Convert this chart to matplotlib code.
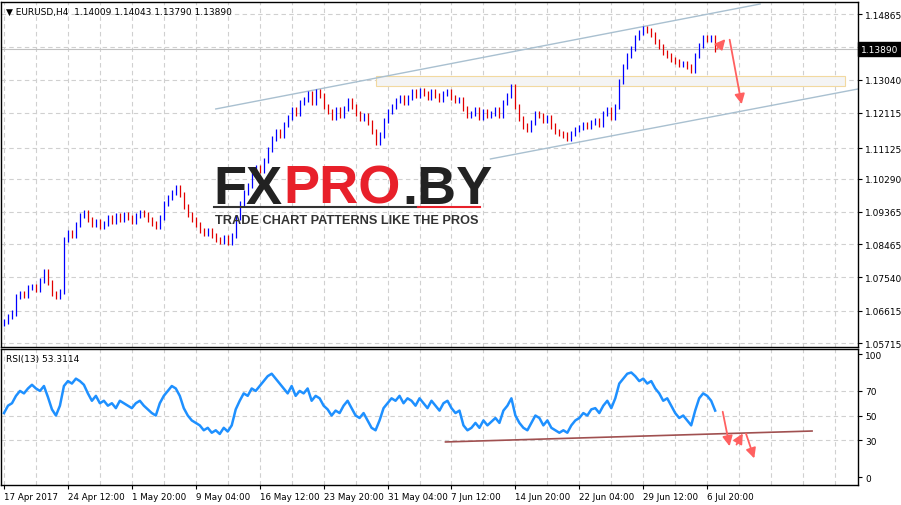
import matplotlib
matplotlib.use("Agg")
import matplotlib.pyplot as plt
import numpy as np

closes = [1.0630,1.0645,1.0655, 1.0700,1.0710,1.0705, 1.0725,1.0730,1.0720,1.0745,1.0770,
 1.0740,1.0710,1.0700,1.0715, 1.0860,1.0880,1.0870,1.0900,1.0925, 1.0935,1.0915,1.0900,1.0910,1.0895,
 1.0905,1.0920,1.0910,1.0925,1.0915,1.0930,1.0920,1.0910,1.0925,1.0935,1.0930,1.0915,
 1.0905,1.0895,1.0920, 1.0960,1.0975,1.0990,1.1005,1.0985, 1.0950,1.0930,1.0915,1.0900,1.0885,
 1.0875,1.0885,1.0870,1.0860,1.0855,1.0865,1.0850,1.0870, 1.0920,1.0960,1.0990,1.1010,1.1040,1.1060,1.1050,
 1.1080,1.1110,1.1140,1.1160,1.1150, 1.1180,1.1200,1.1220,1.1210,1.1240, 1.1250,1.1265,1.1240,1.1270,1.1260,
 1.1230,1.1215,1.1200,1.1220,1.1205, 1.1225,1.1245,1.1230,1.1210,1.1195,1.1205,1.1185, 1.1160,1.1130,1.1150,
 1.1190,1.1215,1.1230,1.1245,1.1255, 1.1240,1.1255,1.1270,1.1260,1.1275,
 1.1265,1.1255,1.1270,1.1260,1.1250,1.1265,1.1270,1.1255,1.1245,1.1250,
 1.1225,1.1205,1.1210,1.1220,1.1200,1.1215,1.1205,1.1210,1.1220,1.1205, 1.1240,1.1260,1.1285,1.1230,
 1.1195,1.1175,1.1165,1.1185, 1.1210,1.1205,1.1190,1.1200,1.1175, 1.1160,1.1155,1.1150,1.1140,1.1155,
 1.1165,1.1170,1.1180,1.1175,1.1185,1.1190,1.1180, 1.1210,1.1220,1.1200,1.1230, 1.1300,1.1340,1.1370,1.1390,
 1.1420,1.1435,1.1445,1.1440,1.1430, 1.1410,1.1395,1.1380,1.1370,1.1360, 1.1355,1.1345,1.1350,1.1340,1.1330,
 1.1370,1.1400,1.1420,1.1415, 1.1420,1.1389]

rsi = [52,58,60, 66,70,68, 72,75,72,70,74, 65,55,50,58, 74,78,76,80,78, 75,68,62,66,60,
 62,58,60,56,62,60,58,56,60,62,58,55, 52,50,60, 66,70,74,72,66, 56,50,46,44,42,
 38,40,36,38,35,40,37,42, 55,62,68,66,72,70,74, 78,82,84,80,76, 72,68,74,66,70, 68,72,62,66,64,
 58,55,50,54,52, 58,62,56,50,48,52,46, 40,38,46, 56,60,64,62,66, 60,64,62,58,64,
 60,56,62,58,54,60,62,56,52,54, 42,38,40,44,40,46,42,45,48,44, 54,58,64,50,
 44,40,38,44, 50,48,42,46,40, 38,36,38,36,42, 46,48,52,50,55,56,52, 58,62,56,64, 76,80,84,85,
 82,78,80,76,78, 72,68,62,64,58, 52,48,50,46,42, 54,64,68,66, 62,54]

price_ticks = [1.14865,1.13040,1.12115,1.11125,1.10290,1.09365,1.08465,1.07540,1.06615,1.05715]
price_labels = ["1.14865","1.13040","1.12115","1.11125","1.10290","1.09365","1.08465","1.07540","1.06615","1.05715"]
time_labels = ["17 Apr 2017","24 Apr 12:00","1 May 20:00","9 May 04:00","16 May 12:00","23 May 20:00",
               "31 May 04:00","7 Jun 12:00","14 Jun 20:00","22 Jun 04:00","29 Jun 12:00","6 Jul 20:00"]
last_price = 1.13890

W, H = 901, 506
fig = plt.figure(figsize=(W/100, H/100), dpi=100)
fig.patch.set_facecolor("white")
plt.rcParams['font.family'] = ['DejaVu Sans']

ax = fig.add_axes([1/W, (H-348)/H, 857/W, 345/H])
ar = fig.add_axes([1/W, (H-486)/H, 857/W, 136/H])

n = len(closes)
x = np.arange(n)
opens = [closes[0]-0.0005] + closes[:-1]
gridkw = dict(color="#d0d0d0", ls=(0,(4,3)), lw=0.8)

for a in (ax, ar):
    a.set_xlim(-0.75, 213.75)
    for gx in np.arange(0, 214, 8):
        a.axvline(gx, **gridkw, zorder=0)
    for s in a.spines.values():
        s.set_color("black"); s.set_linewidth(1)
    a.yaxis.tick_right()
    a.tick_params(axis='y', labelsize=6.5, length=3, pad=2)

for i in range(n):
    o, c = opens[i], closes[i]
    hi = max(o, c) + 0.0007
    lo = min(o, c) - 0.0007
    col = "#0000ff" if c >= o else "#e00000"
    ax.vlines(i, lo, hi, color=col, lw=0.9, zorder=3)

ax.set_ylim(1.05604, 1.15199)
ax.set_yticks(price_ticks)
ax.set_yticklabels(price_labels)
for t in price_ticks + [1.1395]:
    ax.axhline(t, **gridkw, zorder=0)
ax.set_xticks([])
ax.axhline(last_price, color="#c0c0c0", lw=0.8, zorder=1)
ax.text(1.003, last_price, "1.13890", transform=ax.get_yaxis_transform(), va="center", ha="left",
        fontsize=6.5, color="white", bbox=dict(boxstyle="square,pad=0.3", fc="black", ec="black"))

ax.plot([53, 189.25], [1.12224, 1.15143], color="#a9c0d0", lw=1, zorder=2)
ax.plot([121.75, 213.75], [1.10834, 1.1278], color="#a9c0d0", lw=1, zorder=2)
ax.add_patch(plt.Rectangle((93, 1.12863), 117.5, 0.00278, fc="#f4f4f4", ec="#f2d9a0", lw=0.8, zorder=1))

akw = dict(arrowstyle="-|>,head_length=0.6,head_width=0.3", color="#ff6060", lw=1.3)
ax.annotate("", xy=(181, 1.14226), xytext=(178, 1.13836), arrowprops=akw, zorder=5)
ax.annotate("", xy=(184.75, 1.12280), xytext=(181.5, 1.14226), arrowprops=akw, zorder=5)

ax.text(0.006, 0.985, "▼ EURUSD,H4  1.14009 1.14043 1.13790 1.13890", transform=ax.transAxes,
        fontsize=6.5, va="top", ha="left")

# logo
lkw = dict(fontsize=39, fontweight="bold", family="Liberation Sans", va="baseline")
fig.text(213/W, 1-204/H, "FX", color="#222222", **lkw)
fig.text(283/W, 1-204/H, "PRO", color="#e8202a", **lkw)
fig.text(402/W, 1-204/H, ".BY", color="#222222", **lkw)
fig.add_artist(plt.Line2D([214/W, 418/W], [1-208/H]*2, color="#333333", lw=1.5))
fig.add_artist(plt.Line2D([418/W, 480/W], [1-208/H]*2, color="#e8202a", lw=1.5))
fig.text(215/W, 1-224/H, "TRADE CHART PATTERNS LIKE THE PROS", fontsize=9.2, fontweight="bold",
         family="Liberation Sans", color="#333333", va="baseline")

# RSI
ar.plot(x, rsi, color="#1e90ff", lw=1.8, zorder=3)
ar.set_ylim(-6.5, 104.1)
ar.set_yticks([0, 30, 50, 70, 100])
for t in [30, 50, 70]:
    ar.axhline(t, **gridkw, zorder=0)
ar.plot([110.5, 202.25], [28.5, 37.4], color="#a05050", lw=1.2, zorder=2)
ar.annotate("", xy=(181.75, 22.8), xytext=(179.75, 55.3), arrowprops=akw, zorder=5)
ar.annotate("", xy=(185.25, 37.4), xytext=(183, 24.4), arrowprops=akw, zorder=5)
ar.annotate("", xy=(188, 13), xytext=(185.5, 37.4), arrowprops=akw, zorder=5)
ar.text(0.006, 0.96, "RSI(13) 53.3114", transform=ar.transAxes, fontsize=6.5, va="top", ha="left")
ar.set_xticks(np.arange(len(time_labels)) * 16)
ar.set_xticklabels(time_labels, fontsize=6.3, ha="left")
ar.tick_params(axis='x', length=3, pad=2)

fig.savefig("out.png", dpi=100)
